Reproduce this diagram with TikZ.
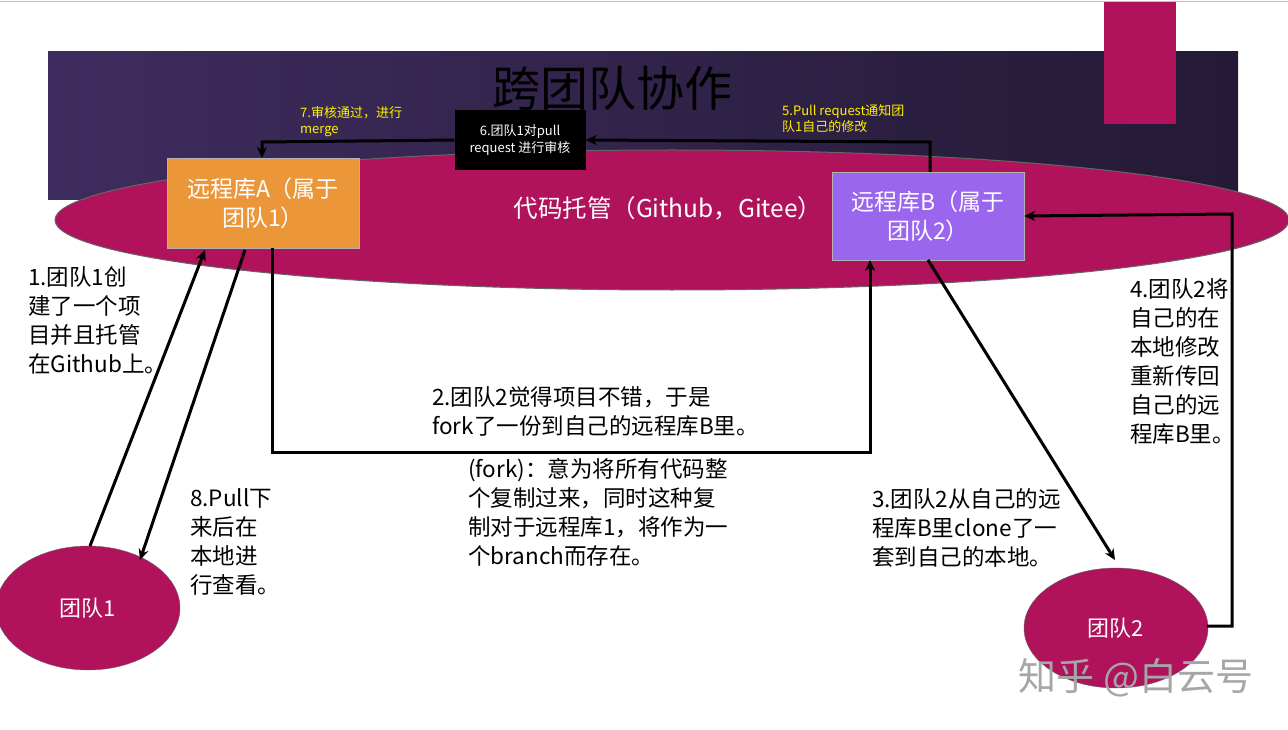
\documentclass[tikz,border=0pt]{standalone}
\usepackage{fontspec}
\setmainfont{Noto Sans CJK SC}
\usetikzlibrary{arrows.meta,shapes.geometric}
\definecolor{mag}{HTML}{B0125B}
\definecolor{band1}{HTML}{3E2C5E}
\definecolor{band2}{HTML}{241A36}
\definecolor{orangebox}{HTML}{EC963A}
\definecolor{purplebox}{HTML}{9B66EE}
\begin{document}
\begin{tikzpicture}[x=1pt,y=-1pt,
  arr/.style={line width=3pt,-{Stealth[length=11pt,width=10pt]}},
  txt/.style={anchor=north west,align=left,font=\fontsize{22.5}{29}\selectfont,inner sep=0pt},
  ylw/.style={anchor=north west,align=left,text=yellow,font=\fontsize{13}{16}\selectfont,inner sep=0pt},
  team/.style={ellipse,fill=mag,draw=black!60,text=white,font=\fontsize{22}{24}\selectfont,inner sep=0pt},
  repo/.style={draw=black!30,minimum width=192pt,align=center,text=white,font=\fontsize{23}{29}\selectfont}]
\useasboundingbox (0,0) rectangle (1288,730);
\fill[white] (0,0) rectangle (1288,730);
\draw[black!25] (0,1) -- (1288,1);
\shade[left color=band1,right color=band2] (48,52) rectangle (1238,200);
\fill[mag] (1104,2) rectangle (1176,124);
\node (title) at (612,88) {\fontsize{48}{50}\selectfont\color{black}跨团队协作};
\draw[fill=mag,draw=black!60,line width=1pt] (672,220) ellipse [x radius=617,y radius=70];
\node (host) at (668,208) {\fontsize{24.5}{28}\selectfont\color{white}代码托管（Github，Gitee）};
\node[repo,fill=orangebox,minimum height=90pt] (A) at (263,203) {远程库A（属于\\团队1）};
\node[repo,fill=purplebox,minimum height=88pt] (B) at (928,216) {远程库B（属于\\团队2）};
\node[fill=black,minimum width=131pt,minimum height=60pt,align=center,text=white,font=\fontsize{13}{17}\selectfont] (R) at (520,140) {6.团队1对pull\\request 进行审核};
\node[ylw] (y7) at (300,106) {7.审核通过，进行\\merge};
\node[ylw] (y5) at (782,104) {5.Pull request通知团\\队1自己的修改};
\node[team,minimum width=184pt,minimum height=124pt] (T1) at (88,608) {团队1};
\node[team,minimum width=184pt,minimum height=120pt] (T2) at (1116,628) {团队2};
\coordinate (c1) at (930,142);
\coordinate (c2) at (262,142);
\coordinate (c3) at (272,452);
\coordinate (c4) at (870,452);
\coordinate (c5) at (1232,626);
\coordinate (c6) at (1232,214);
\draw[arr] (930,172) -- (c1) -- (R.east);
\draw[arr] (R.west) -- (c2) -- (262,158);
\draw[arr] (272,248) -- (c3) -- (c4) -- (870,260);
\draw[arr] (90,546) -- (205,250);
\draw[arr] (245,250) -- (140,560);
\draw[arr] (928,260) -- (1115,560);
\draw[arr] (1207,626) -- (c5) -- (c6) -- (B.east);
\node[txt] (t1) at (28,266) {1.团队1创\\建了一个项\\目并且托管\\在Github上。};
\node[txt] (t2) at (432,386) {2.团队2觉得项目不错，于是\\fork了一份到自己的远程库B里。};
\node[txt] (t3) at (468,458) {(fork)：意为将所有代码整\\个复制过来，同时这种复\\制对于远程库1，将作为一\\个branch而存在。};
\node[txt] (t4) at (190,488) {8.Pull下\\来后在\\本地进\\行查看。};
\node[txt] (t5) at (872,488) {3.团队2从自己的远\\程库B里clone了一\\套到自己的本地。};
\node[txt] (t6) at (1130,278) {4.团队2将\\自己的在\\本地修改\\重新传回\\自己的远\\程库B里。};
\node (wm) at (1136,678) {\fontsize{38}{40}\selectfont\color{black!35}知乎 @白云号};
\end{tikzpicture}
\end{document}
